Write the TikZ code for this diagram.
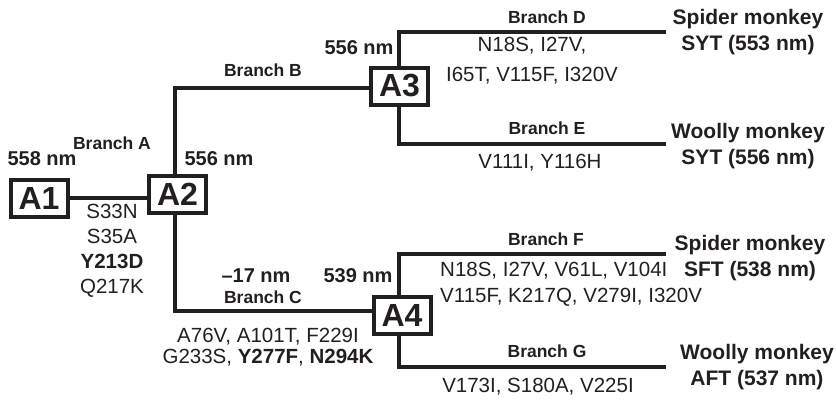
\documentclass[tikz,border=0pt]{standalone}
\usepackage{fontspec}
\setmainfont{Liberation Sans}
\definecolor{ink}{RGB}{35,31,32}
\begin{document}
\begin{tikzpicture}[x=1pt,y=-1pt,
  abox/.style={draw=ink, line width=4pt, fill=white, minimum width=57pt, minimum height=37pt,
    inner sep=0pt, text=ink, font=\fontsize{32}{32}\selectfont\bfseries},
  branch/.style={draw=ink, line width=4pt, line join=miter},
  brlab/.style={text=ink, inner sep=0pt, font=\fontsize{17.5}{20}\selectfont\bfseries},
  nmlab/.style={text=ink, inner sep=0pt, font=\fontsize{20}{22}\selectfont\bfseries},
  mutlab/.style={text=ink, inner sep=0pt, align=center},
  splab/.style={text=ink, inner sep=0pt, align=center, font=\fontsize{21}{26}\selectfont\bfseries}]
\useasboundingbox (0,0) rectangle (836,400);
% junction and end coordinates
\coordinate (jB) at (175,88);
\coordinate (jC) at (175,311);
\coordinate (dT) at (399,32);  \coordinate (dE) at (666,32);
\coordinate (eT) at (399,144); \coordinate (eE) at (666,144);
\coordinate (fT) at (399,254); \coordinate (fE) at (666,254);
\coordinate (gT) at (399,367); \coordinate (gE) at (666,367);
% ancestor boxes
\node[abox] (A1) at (39,198) {A1};
\node[abox] (A2) at (177.5,194.5) {A2};
\node[abox] (A3) at (399.5,86) {A3};
\node[abox] (A4) at (402,315.5) {A4};
% branches
\draw[branch] (A1.east) -- (A1.east -| A2.west);
\draw[branch] (A2.north -| jB) -- (jB) -- (jB -| A3.west);
\draw[branch] (A2.south -| jB) -- (jC) -- (jC -| A4.west);
\draw[branch] (A3.north -| dT) -- (dT) -- (dE);
\draw[branch] (A3.south -| eT) -- (eT) -- (eE);
\draw[branch] (A4.north -| fT) -- (fT) -- (fE);
\draw[branch] (A4.south -| gT) -- (gT) -- (gE);
% wavelength labels
\node[nmlab] (n1) at (42,159) {558 nm};
\node[nmlab] (n2) at (219,159) {556 nm};
\node[nmlab] (n3) at (359,48) {556 nm};
\node[nmlab] (n4) at (358,276) {539 nm};
\node[nmlab] (n5) at (256,276) {–17 nm};
% branch labels
\node[brlab] (bA) at (112,143) {Branch A};
\node[brlab] (bB) at (263,70) {Branch B};
\node[brlab] (bC) at (263,297) {Branch C};
\node[brlab] (bD) at (547,17) {Branch D};
\node[brlab] (bE) at (547,128) {Branch E};
\node[brlab] (bF) at (546,239) {Branch F};
\node[brlab] (bG) at (547,351) {Branch G};
% mutations
\node[mutlab, font=\fontsize{20.5}{25}\selectfont] (mA) at (112,251) {S33N\\S35A\\\textbf{Y213D}\\Q217K};
\node[mutlab, font=\fontsize{20.5}{21.5}\selectfont] (mC) at (268,347) {A76V, A101T, F229I\\G233S, \textbf{Y277F}, \textbf{N294K}};
\node[mutlab, font=\fontsize{20.5}{30.5}\selectfont] (mD) at (532,60.5) {N18S, I27V,\\I65T, V115F, I320V};
\node[mutlab, font=\fontsize{20.5}{25}\selectfont] (mE) at (540,163) {V111I, Y116H};
\node[mutlab, align=left, anchor=west, font=\fontsize{20.5}{26}\selectfont] (mF) at (440,284) {N18S, I27V, V61L, V104I\\V115F, K217Q, V279I, I320V};
\node[mutlab, font=\fontsize{20.5}{25}\selectfont] (mG) at (538,387) {V173I, S180A, V225I};
% species
\node[splab] (sD) at (748,32) {Spider monkey\\SYT (553 nm)};
\node[splab] (sE) at (748,146) {Woolly monkey\\SYT (556 nm)};
\node[splab] (sF) at (750,258.5) {Spider monkey\\SFT (538 nm)};
\node[splab] (sG) at (757,367.5) {Woolly monkey\\AFT (537 nm)};
\end{tikzpicture}
\end{document}
